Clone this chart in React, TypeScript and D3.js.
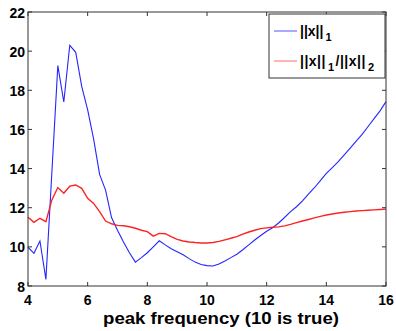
import React from "react";
import * as d3 from "d3";

const freqs: number[] = [
  4.0, 4.2, 4.4, 4.6, 4.8, 5.0, 5.2, 5.4, 5.6, 5.8, 6.0, 6.2, 6.4, 6.6, 6.8, 7.0, 7.2, 7.4, 7.6, 7.8,
  8.0, 8.2, 8.4, 8.6, 8.8, 9.0, 9.2, 9.4, 9.6, 9.8, 10.0, 10.2, 10.4, 10.6, 10.8, 11.0, 11.2, 11.4, 11.6, 11.8,
  12.0, 12.2, 12.4, 12.6, 12.8, 13.0, 13.2, 13.4, 13.6, 13.8, 14.0, 14.2, 14.4, 14.6, 14.8, 15.0, 15.2, 15.4, 15.6, 15.8,
  16.0,
];

const l1Values: number[] = [
  9.98, 9.67, 10.3, 8.34, 13.8, 19.26, 17.4, 20.3, 19.94, 18.2, 17.0, 15.5, 13.7, 12.9, 11.5, 10.85, 10.25, 9.7, 9.22, 9.45,
  9.7, 10.0, 10.31, 10.1, 9.9, 9.75, 9.6, 9.4, 9.22, 9.1, 9.04, 9.02, 9.12, 9.28, 9.45, 9.62, 9.85, 10.1, 10.35, 10.58,
  10.8, 10.98, 11.22, 11.5, 11.8, 12.05, 12.35, 12.7, 13.02, 13.38, 13.75, 14.05, 14.35, 14.7, 15.05, 15.4, 15.75, 16.15, 16.55, 16.95,
  17.42,
];

const ratioValues: number[] = [
  11.51, 11.25, 11.46, 11.29, 12.4, 13.03, 12.74, 13.1, 13.16, 12.99, 12.48, 12.22, 11.8, 11.32, 11.18, 11.1, 11.08, 11.03, 10.95, 10.85,
  10.78, 10.55, 10.69, 10.67, 10.52, 10.38, 10.3, 10.25, 10.22, 10.2, 10.2, 10.22, 10.28, 10.36, 10.44, 10.52, 10.65, 10.76, 10.85, 10.93,
  10.97, 11.0, 11.02, 11.07, 11.15, 11.24, 11.32, 11.4, 11.48, 11.56, 11.63, 11.68, 11.73, 11.77, 11.8, 11.83, 11.85, 11.87, 11.89, 11.91,
  11.93,
];

const xTicks: number[] = [4, 6, 8, 10, 12, 14, 16];
const yTicks: number[] = [8, 10, 12, 14, 16, 18, 20, 22];
const xLabel = "peak frequency (10 is true)";

const W = 396;
const H = 331;
const M = { left: 28, top: 12, right: 386, bottom: 286 };

export default function App() {
  const x = d3.scaleLinear().domain([4, 16]).range([M.left, M.right]);
  const y = d3.scaleLinear().domain([8, 22]).range([M.bottom, M.top]);
  const line = d3
    .line<number>()
    .x((_, i) => x(freqs[i]))
    .y((d) => y(d));

  const font = "'Liberation Sans', Arial, Helvetica, sans-serif";
  const axisColor = "#333";
  const tick = 4;

  return (
    <svg
      width={W}
      height={H}
      style={{ position: "fixed", left: 0, top: 0, background: "#fff" }}
      fontFamily={font}
    >
      <rect x={0} y={0} width={W} height={H} fill="#fff" />
      <g>
        <path d={line(l1Values) || ""} fill="none" stroke="#2525ff" strokeWidth={1.1} />
        <path d={line(ratioValues) || ""} fill="none" stroke="#ff2222" strokeWidth={1.4} />
      </g>
      <rect
        x={M.left}
        y={M.top}
        width={M.right - M.left}
        height={M.bottom - M.top}
        fill="none"
        stroke={axisColor}
        strokeWidth={1}
      />
      {xTicks.map((t) => (
        <g key={"x" + t}>
          <line x1={x(t)} x2={x(t)} y1={M.bottom} y2={M.bottom - tick} stroke={axisColor} />
          <line x1={x(t)} x2={x(t)} y1={M.top} y2={M.top + tick} stroke={axisColor} />
          <text x={x(t)} y={305} textAnchor="middle" fontSize={14} fontWeight="bold" fill="#000">
            {t}
          </text>
        </g>
      ))}
      {yTicks.map((t) => (
        <g key={"y" + t}>
          <line x1={M.left} x2={M.left + tick} y1={y(t)} y2={y(t)} stroke={axisColor} />
          <line x1={M.right} x2={M.right - tick} y1={y(t)} y2={y(t)} stroke={axisColor} />
          <text x={25} y={y(t) + 5.5} textAnchor="end" fontSize={14} fontWeight="bold" fill="#000">
            {t}
          </text>
        </g>
      ))}
      <text
        x={221}
        y={324}
        textAnchor="middle"
        fontSize={17}
        fontWeight="bold"
        fill="#000"
        textLength={236}
        lengthAdjust="spacingAndGlyphs"
      >
        {xLabel}
      </text>
      <g>
        <rect x={269} y={14} width={116} height={64} fill="#fff" stroke={axisColor} strokeWidth={1} />
        <line x1={274} x2={297} y1={31} y2={31} stroke="#7070ff" strokeWidth={1.2} />
        <text x={300} y={35.5} fontSize={14} fontWeight="bold" fill="#000">
          ||x||
          <tspan fontSize={11} dy={5} dx={2}>1</tspan>
        </text>
        <line x1={274} x2={297} y1={61} y2={61} stroke="#ff8080" strokeWidth={1.2} />
        <text x={300} y={65.5} fontSize={14} fontWeight="bold" fill="#000" textLength={74} lengthAdjust="spacing">
          ||x||
          <tspan fontSize={11} dy={5} dx={2}>1</tspan>
          <tspan fontSize={14} dy={-5} dx={1}>/||x||</tspan>
          <tspan fontSize={11} dy={5} dx={2}>2</tspan>
        </text>
      </g>
    </svg>
  );
}
